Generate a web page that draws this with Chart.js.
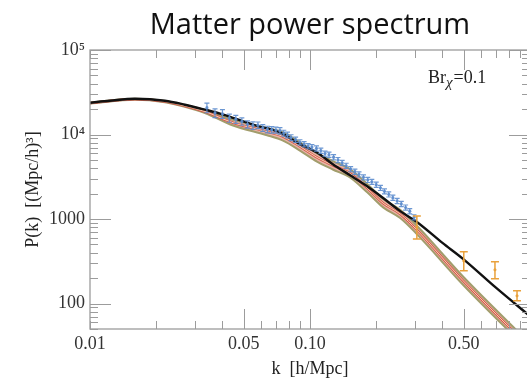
<!DOCTYPE html>
<html>
<head>
<meta charset="utf-8">
<script src="https://cdn.jsdelivr.net/npm/chart.js@4.4.1/dist/chart.umd.min.js"></script>
<style>
  html, body { margin: 0; padding: 0; background: #fff; overflow: hidden; }
  #wrap { width: 534px; height: 381px; }
</style>
</head>
<body>
<div id="wrap"><canvas id="pk" width="534" height="381"></canvas></div>
<script>
// theory curve (black)
const kTheory = [0.01, 0.0123, 0.016, 0.0219, 0.027, 0.0333, 0.039, 0.055, 0.073, 0.09, 0.1076, 0.127, 0.152, 0.182, 0.215, 0.257, 0.306, 0.4, 0.496, 0.7, 1.0];
const pTheory = [23800, 25100, 26500, 25100, 22500, 19700, 17700, 13100, 10600, 7700, 6140, 4440, 3300, 2440, 1770, 1240, 923, 522, 338, 154, 71];

// Br_X = 0.1 band: centre, upper and lower edge
const kBand = [0.01, 0.016, 0.0219, 0.027, 0.0333, 0.0447, 0.0638, 0.0754, 0.09, 0.1076, 0.127, 0.152, 0.182, 0.215, 0.257, 0.306, 0.496, 1.0];
const pBand = [23500, 26100, 24600, 21800, 18700, 13800, 10800, 9470, 7230, 5360, 4320, 3470, 2320, 1540, 1150, 743, 187, 30];
const pBandHi = [23800, 26500, 25000, 22300, 19400, 14900, 11880, 10610, 8100, 6000, 4840, 3885, 2600, 1725, 1288, 832, 209, 33.6];
const pBandLo = [23200, 25700, 24100, 21300, 18000, 12780, 9820, 8455, 6455, 4785, 3857, 3100, 2071, 1375, 1027, 663, 167, 26.8];

// survey points (blue) with relative errors
const kBlue = [0.034, 0.037, 0.040, 0.043, 0.046, 0.049, 0.052, 0.055, 0.058, 0.061, 0.064, 0.067, 0.070, 0.073, 0.076, 0.079, 0.082, 0.086, 0.090, 0.094, 0.098, 0.102, 0.107, 0.112, 0.117, 0.122, 0.128, 0.134, 0.140, 0.146, 0.153, 0.160, 0.167, 0.175, 0.183, 0.191, 0.200, 0.209, 0.218, 0.228, 0.238, 0.249, 0.260, 0.272, 0.284, 0.297];
const pBlue = [20800, 18000, 17600, 15700, 15200, 14300, 13200, 12800, 12900, 12000, 11500, 11400, 11300, 11100, 10400, 9900, 9200, 8700, 8100, 7700, 7300, 7100, 6850, 6450, 5950, 5770, 5400, 5000, 4630, 4270, 3900, 3640, 3380, 3120, 2910, 2760, 2550, 2340, 2130, 1960, 1790, 1640, 1510, 1370, 1240, 1050];
const errBlue = [0.13, 0.12, 0.12, 0.11, 0.11, 0.1, 0.1, 0.1, 0.09, 0.09, 0.09, 0.09, 0.08, 0.09, 0.08, 0.08, 0.08, 0.07, 0.07, 0.07, 0.07, 0.07, 0.07, 0.07, 0.07, 0.07, 0.07, 0.07, 0.07, 0.07, 0.07, 0.07, 0.07, 0.07, 0.07, 0.07, 0.07, 0.07, 0.07, 0.07, 0.07, 0.07, 0.07, 0.07, 0.07, 0.07];

// high-k points (orange) with lower / upper limits
const kOrange = [0.306, 0.5, 0.693, 0.873];
const pOrange = [805, 321, 251, 124];
const loOrange = [582, 244, 197, 108];
const hiOrange = [1084, 409, 312, 142];

// tick labels
const xLabelValues = [0.01, 0.05, 0.1, 0.5];
const xLabelText = ['0.01', '0.05', '0.10', '0.50'];
const yLabelValues = [100, 1000, 10000, 100000];
const yLabelText = ['100', '1000', '10\u2074', '10\u2075'];

const pts = (ks, ps) => ks.map((k, i) => ({x: k, y: ps[i]}));

function logTicks(lo, hi) {
  const out = [];
  for (let d = Math.floor(Math.log10(lo)); d <= Math.ceil(Math.log10(hi)); d++) {
    for (let m = 1; m <= 9; m++) {
      const v = +(m * Math.pow(10, d)).toPrecision(3);
      if (v >= lo * 0.999 && v <= hi * 1.001) out.push(v);
    }
  }
  return out;
}

const curve = (ps, color, width, order, extra) => Object.assign({
  data: pts(kBand, ps), showLine: true, borderColor: color, borderWidth: width,
  pointRadius: 0, cubicInterpolationMode: 'monotone', order: order, fill: false
}, extra || {});

const serif = '"Liberation Serif", "DejaVu Serif", serif';
const axisGray = '#9c9c9c';

const frameTicks = {
  id: 'frameTicks',
  afterDatasetsDraw(chart) {
    const {ctx, chartArea: a, scales: {x, y}} = chart;
    ctx.save();
    ctx.beginPath();
    ctx.rect(a.left, a.top, a.right - a.left, a.bottom - a.top);
    ctx.clip();

    // blue error bars
    ctx.strokeStyle = 'rgba(92,140,205,0.9)';
    ctx.fillStyle = 'rgba(92,140,205,0.9)';
    ctx.lineWidth = 1.2;
    kBlue.forEach((k, i) => {
      const px = x.getPixelForValue(k);
      const y1 = y.getPixelForValue(pBlue[i] * (1 + errBlue[i]));
      const y2 = y.getPixelForValue(pBlue[i] * (1 - errBlue[i]));
      ctx.beginPath();
      ctx.moveTo(px, y1); ctx.lineTo(px, y2);
      ctx.moveTo(px - 2.5, y1); ctx.lineTo(px + 2.5, y1);
      ctx.moveTo(px - 2.5, y2); ctx.lineTo(px + 2.5, y2);
      ctx.stroke();
      ctx.beginPath();
      ctx.arc(px, y.getPixelForValue(pBlue[i]), 1.6, 0, Math.PI * 2);
      ctx.fill();
    });

    // orange error bars
    ctx.strokeStyle = '#e9a13c';
    ctx.fillStyle = '#e9a13c';
    ctx.lineWidth = 1.5;
    kOrange.forEach((k, i) => {
      const px = x.getPixelForValue(k);
      const y1 = y.getPixelForValue(hiOrange[i]);
      const y2 = y.getPixelForValue(loOrange[i]);
      ctx.beginPath();
      ctx.moveTo(px, y1); ctx.lineTo(px, y2);
      ctx.moveTo(px - 4, y1); ctx.lineTo(px + 4, y1);
      ctx.moveTo(px - 4, y2); ctx.lineTo(px + 4, y2);
      ctx.stroke();
      ctx.beginPath();
      ctx.arc(px, y.getPixelForValue(pOrange[i]), 1.5, 0, Math.PI * 2);
      ctx.fill();
    });
    ctx.restore();

    // frame and inward ticks
    ctx.save();
    ctx.strokeStyle = axisGray;
    ctx.lineWidth = 1.3;
    ctx.strokeRect(a.left, a.top, a.right - a.left, a.bottom - a.top);
    ctx.lineWidth = 1;
    ctx.beginPath();
    x.ticks.forEach(t => {
      const px = Math.round(x.getPixelForValue(t.value)) + 0.5;
      const len = t.big ? 20 : 8;
      ctx.moveTo(px, a.bottom); ctx.lineTo(px, a.bottom - len);
      ctx.moveTo(px, a.top); ctx.lineTo(px, a.top + len);
    });
    y.ticks.forEach(t => {
      const py = Math.round(y.getPixelForValue(t.value)) + 0.5;
      const len = t.big ? 21 : 8;
      ctx.moveTo(a.left, py); ctx.lineTo(a.left + len, py);
      ctx.moveTo(a.right, py); ctx.lineTo(a.right - len, py);
    });
    ctx.stroke();

    // Br_X = 0.1 label
    ctx.fillStyle = '#222';
    ctx.textBaseline = 'alphabetic';
    ctx.font = '18px ' + serif;
    const bx = 428, by = 83;
    ctx.fillText('Br', bx, by);
    const w1 = ctx.measureText('Br').width;
    ctx.font = 'italic 15px ' + serif;
    ctx.fillText('\u03c7', bx + w1, by + 4);
    const w2 = ctx.measureText('\u03c7').width;
    ctx.font = '18px ' + serif;
    ctx.fillText('=0.1', bx + w1 + w2 + 1, by);
    ctx.restore();
  }
};

new Chart(document.getElementById('pk'), {
  type: 'scatter',
  data: {
    datasets: [
      curve(pBandHi, '#a29d6c', 2, 7, { fill: '+1', backgroundColor: '#eab4a8' }),
      curve(pBandLo, '#a29d6c', 2, 6),
      curve(pBand, '#d25a4e', 2.5, 5),
      curve(pBand, '#f6d3b0', 1, 4),
      {
        data: pts(kTheory, pTheory), showLine: true, borderColor: '#111', borderWidth: 2.4,
        pointRadius: 0, cubicInterpolationMode: 'monotone', order: 2
      }
    ]
  },
  options: {
    responsive: false,
    animation: false,
    devicePixelRatio: 1,
    layout: { padding: { top: 0, right: 4, left: 0, bottom: 0 } },
    plugins: {
      legend: { display: false },
      tooltip: { enabled: false },
      filler: { propagate: false },
      title: {
        display: true,
        fullSize: false,
        text: 'Matter power spectrum',
        color: '#111',
        font: { family: '"Open Sans", sans-serif', size: 29, weight: 'normal' },
        padding: { top: 8.1, bottom: 7.1 }
      }
    },
    scales: {
      x: {
        type: 'logarithmic',
        min: 0.01, max: 1,
        afterBuildTicks: s => {
          s.ticks = logTicks(0.01, 1).map(v => ({value: v, big: [0.05, 0.1, 0.5].includes(v)}));
        },
        afterFit: s => { s.height = 52; },
        grid: { display: false, drawTicks: false },
        border: { display: false },
        ticks: {
          autoSkip: false, maxRotation: 0, padding: 4, color: '#333',
          font: { family: serif, size: 18 },
          callback: v => {
            const i = xLabelValues.findIndex(q => Math.abs(q - v) < 1e-9);
            return i >= 0 ? xLabelText[i] : '';
          }
        },
        title: {
          display: true, text: 'k  [h/Mpc]', color: '#222',
          font: { family: serif, size: 18 }, padding: { top: 0, bottom: 1 }
        }
      },
      y: {
        type: 'logarithmic',
        min: 50, max: 100000,
        afterBuildTicks: s => {
          s.ticks = logTicks(50, 100000).map(v => ({value: v, big: yLabelValues.includes(v)}));
        },
        afterFit: s => { s.width = 90; },
        grid: { display: false, drawTicks: false },
        border: { display: false },
        ticks: {
          autoSkip: false, padding: 5, color: '#333',
          font: { family: serif, size: 18 },
          callback: v => {
            const i = yLabelValues.indexOf(v);
            return i >= 0 ? yLabelText[i] : '';
          }
        },
        title: {
          display: true, text: 'P(k)  [(Mpc/h)\u00b3]', color: '#222',
          font: { family: serif, size: 18 }, padding: { top: 22, bottom: 0 }
        }
      }
    }
  },
  plugins: [frameTicks]
});
</script>
</body>
</html>
